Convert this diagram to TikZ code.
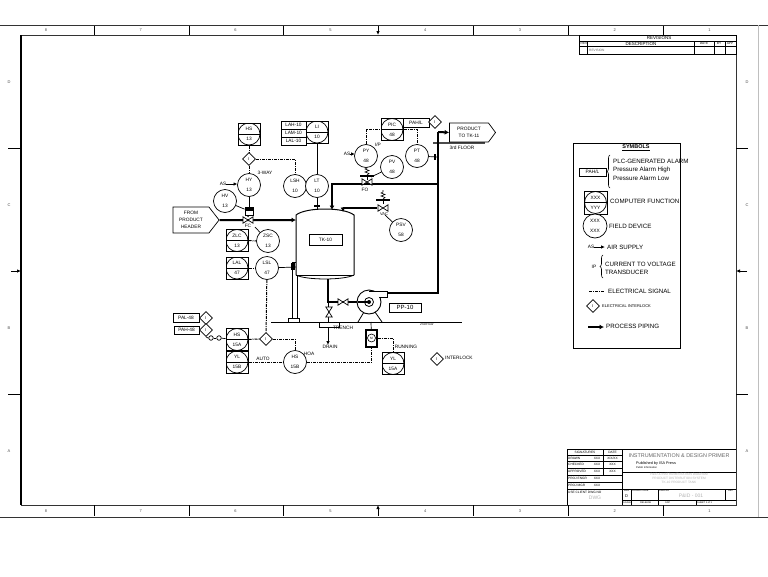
\documentclass[tikz,border=0pt]{standalone}
\usepackage{fontspec}
\setmainfont{Liberation Sans}
\usetikzlibrary{arrows.meta,shapes.geometric,shapes.symbols,decorations.pathreplacing}
\newcommand{\tagfont}{\fontsize{4.8}{10}\selectfont}
\newcommand{\tinyfont}{\fontsize{3.2}{4}\selectfont}
\newcommand{\symfont}{\fontsize{6.2}{8}\selectfont}
\tikzset{
  instr/.style={circle,draw,line width=0.7pt,minimum size=23pt,inner sep=0pt,align=center,font=\tagfont,fill=white},
  shared/.style={rectangle,draw,line width=1pt,minimum size=22pt,inner sep=0pt,align=center,font=\tagfont,
    path picture={\draw[line width=0.7pt] (path picture bounding box.center) circle (11pt);
      \draw[line width=0.7pt] (path picture bounding box.west) -- (path picture bounding box.east);}},
  tagbox/.style={rectangle,draw,line width=0.9pt,inner sep=0pt,font=\tagfont,fill=white},
  intlk/.style={diamond,draw,line width=0.7pt,aspect=1,minimum size=13pt,inner sep=0pt,font=\fontsize{4}{4}\selectfont,fill=white},
  lbl/.style={inner sep=0pt,font=\tagfont},
  small/.style={inner sep=0pt,font=\tinyfont},
  sheetmark/.style={inner sep=0pt,text=black!70,font=\fontsize{4}{4}\selectfont},
  sym/.style={inner sep=0pt,anchor=west,font=\symfont},
  greytext/.style={inner sep=0pt,text=black!30,font=\tinyfont},
  pipe/.style={line width=2pt},
  pipeto/.style={line width=2pt,-{Latex[length=4.5pt,width=5pt]}},
  airto/.style={line width=0.9pt,-{Latex[length=4pt,width=3.5pt]}},
  elec/.style={line width=1pt,dash pattern=on 3pt off 1pt on 1pt off 1pt},
  thinline/.style={line width=0.7pt},
  grid line/.style={line width=0.8pt},
  valvebody/.pic={\draw[line width=0.7pt,fill=white] (-5,-3.2) -- (5,3.2) -- (5,-3.2) -- (-5,3.2) -- cycle;},
  springtop/.pic={\draw[line width=0.6pt] (0,-9) -- (0,-7) -- (-2,-6) -- (2,-4.5) -- (-2,-3) -- (2,-1.5) -- (0,0);
    \draw[line width=1.6pt] (-7,1) -- (7,1);\draw[line width=0.7pt] (0,1) -- (0,5);}
}
\begin{document}
\begin{tikzpicture}[x=1pt,y=-1pt]
\useasboundingbox (0,0) rectangle (768,576);
% sheet border
\draw[line width=0.9pt,black!80] (0,25) -- (768,25);
\draw[line width=0.9pt,black!80] (0,517) -- (768,517);
\draw[line width=0.9pt,black!25] (758,25) -- (758,517);
\draw[line width=1pt,black!80] (21,35) -- (736,35) -- (736,505) -- (21,505);
\draw[line width=1.6pt] (21,35) -- (21,505);
\foreach \x in {94,189,283,473,568,663} {
  \draw[line width=0.8pt] (\x,26) -- (\x,35);
  \draw[line width=0.8pt] (\x,505) -- (\x,516);
}
\foreach \y in {148,394} {
  \draw[line width=0.8pt] (8,\y) -- (21,\y);
  \draw[line width=0.8pt] (736,\y) -- (748,\y);
}
\draw[airto] (378,26) -- (378,35);
\draw[airto] (378,516) -- (378,505);
\draw[airto] (11,271) -- (21,271);
\draw[airto] (747,271) -- (736,271);
\foreach \n [count=\i from 0] in {8,7,6,5,4,3,2,1} {
  \node[sheetmark] (topnum\n) at (46+94.8*\i,30) {\n};
  \node[sheetmark] (botnum\n) at (46+94.8*\i,511) {\n};
}
\foreach \c/\y in {D/82,C/205,B/328,A/451} {
  \node[sheetmark] (left\c) at (9,\y) {\c};
  \node[sheetmark] (right\c) at (747,\y) {\c};
}
% revisions block
\draw[grid line] (579,35) rectangle (736,54);
\draw[grid line] (579,41) -- (736,41);
\draw[grid line] (579,46) -- (736,46);
\foreach \x in {587,694,714,725} \draw[grid line] (\x,41) -- (\x,54);
\node[small,font=\fontsize{4.5}{5}\selectfont] (revhead) at (659,37.5) {REVISIONS};
\node[small] (revno) at (584,43.5) {REV};
\node[small,font=\fontsize{4.5}{5}\selectfont] (revdesc) at (641,43.5) {DESCRIPTION};
\node[small] (revdate) at (704,43.5) {DATE};
\node[small] (revby) at (719,43.5) {BY};
\node[small] (revchk) at (730,43.5) {APP};
\node[greytext,text=black!60,anchor=west] (revtext) at (589,50) {REVISION};
% tank
\draw[line width=1pt] (296,275) -- (296,215) .. controls (306,207) and (344,207) .. (354,215) -- (354,275);
\draw[line width=0.7pt] (296,275) -- (354,275);
\draw[line width=0.8pt] (296,275) .. controls (306,280.3) and (344,280.3) .. (354,275);
\node[tagbox,minimum width=33pt,minimum height=11pt] (tk10) at (325.5,240) {TK-10};
\coordinate (tkfeed) at (296,220);
\coordinate (tktop) at (332,210);
\coordinate (tkvent) at (343,212);
\coordinate (tklt) at (317,209);
\coordinate (tkside) at (296,267);
\coordinate (tkout) at (328,279);
% legs and floor
\draw[line width=0.8pt] (292,262) -- (296,262);
\draw[line width=0.8pt] (292,262) -- (292,318);
\draw[line width=0.8pt] (297,275) -- (297,318);
\draw[line width=0.8pt] (288,318) rectangle (299,322);
\draw[line width=0.9pt] (271,322) -- (462,322);
\node[small] (floor2) at (427,324) {2nd Floor};
\draw[line width=1.2pt,black!70] (433,143) -- (485,143);
\node[lbl] (floor3) at (462,148) {3rd FLOOR};
% process lines
\node[signal,signal to=east,signal pointer angle=104,draw,line width=0.7pt,minimum width=46pt,minimum height=26pt,inner sep=0pt,align=center,font=\fontsize{4.8}{7}\selectfont] (header) at (191,220) {FROM\\PRODUCT\\HEADER};
\node[signal,signal to=east,signal pointer angle=107,draw,line width=0.7pt,minimum width=46pt,minimum height=19pt,inner sep=0pt,align=center,font=\fontsize{4.8}{7}\selectfont] (product) at (469,132.5) {PRODUCT\\TO TK-11};
\coordinate (mainrise) at (438,132);
\draw[pipeto] (header) -- (tkfeed);
\draw[pipeto] (438,184) -- (332,184) -- (tktop);
\draw[pipeto] (mainrise) -- (product.west);
\draw[pipe] (mainrise) -- (438,293) -- (387,293);
\draw[pipeto] (377,208) -- (343,208) -- (tkvent);
\draw[pipe] (tkout) -- (328,302) -- (369,302);
\draw[line width=0.8pt,-{Latex[length=4pt,width=3.5pt]}] (328,302) -- (328,345);
\pic at (248,220) {valvebody};
\pic at (367,182) {valvebody};
\pic at (383,208) {valvebody};
\pic at (343,302) {valvebody};
\pic[rotate=90] at (329,312) {valvebody};
\pic at (367,175) {springtop};
\pic at (383,199) {springtop};
\node[lbl] (fclabel) at (248,226) {FC};
\node[lbl] (folabel) at (365,189.5) {FO};
\node[lbl,font=\fontsize{4}{5}\selectfont] (vaclabel) at (384,214.5) {VAC};
% trench and drain
\draw[line width=0.8pt,fill=white] (319,322) rectangle (339,327);
\node[lbl] (trench) at (343,328) {TRENCH};
\node[lbl] (drain) at (330,347) {DRAIN};
% pump
\draw[line width=0.8pt] (358,322) -- (364,312);
\draw[line width=0.8pt] (382,322) -- (375,312);
\draw[line width=0.9pt,fill=white] (369,302) circle (12pt);
\draw[line width=0.9pt,fill=white] (369,291) -- (387,291) -- (387,297) -- (379,297);
\draw[line width=0.8pt] (369,302) circle (4.5pt);
\fill (369,302) circle (2pt);
\draw[line width=1.4pt] (358,302) -- (369,302);
\node[tagbox,minimum width=32pt,minimum height=9pt,font=\fontsize{6}{7}\selectfont] (pp10) at (405,307.5) {PP-10};
% level and selector loop
\node[shared] (hs13) at (249,134) {HS\\13};
\node[shared] (li10) at (317,132) {LI\\10};
\node[tagbox,minimum width=25pt,minimum height=8pt] (lah10) at (293.5,125) {LAH-10};
\node[tagbox,minimum width=25pt,minimum height=8pt] (lam10) at (293.5,133) {LAM-10};
\node[tagbox,minimum width=25pt,minimum height=8pt] (lal10) at (293.5,141) {LAL-10};
\node[intlk] (int13) at (249,159) {I};
\node[instr] (hy13) at (249,185) {HY\\13};
\node[instr] (lsh10) at (295,186) {LSH\\10};
\node[instr] (lt10) at (317,186) {LT\\10};
\node[instr] (hv13) at (225,201) {HV\\13};
\node[lbl] (threeway) at (265,173) {3-WAY};
\node[lbl] (as13) at (223,184) {AS};
\coordinate (as13end) at (237.5,184);
\draw[airto] (as13) -- (as13end);
\draw[elec] (hs13) -- (int13);
\draw[elec] (int13) -- (hy13);
\draw[elec] (int13) -| (lsh10);
\draw[thinline] (li10) -- (lt10);
\draw[thinline] (lt10) -- (tklt);
\draw[line width=1.2pt] (314,206) -- (320,206);
\node[draw,fill=white,line width=0.8pt,minimum width=8pt,minimum height=8pt,inner sep=0pt] (fcact) at (249,211) {};
\fill (245,207) rectangle (253,211);
\draw[line width=0.8pt] (hy13) -- (fcact);
\draw[thinline] (hv13) -- (fcact);
\draw[line width=1.2pt] (fcact) -- (248,217);
\node[shared] (zlc13) at (237,240.5) {ZLC\\13};
\node[instr] (zsc13) at (268,241) {ZSC\\13};
\draw[elec] (zlc13) -- (zsc13);
\coordinate (fcstem) at (255,227);
\draw[thinline] (fcstem) -- (zsc13);
\node[shared] (lal47) at (237,268) {LAL\\47};
\node[instr] (lsl47) at (267,268) {LSL\\47};
\draw[elec] (lal47) -- (lsl47);
\draw[thinline] (lsl47) -- (tkside);
\fill (291,263) rectangle (295,270);
\node[intlk] (int15) at (266,339) {I};
\node[shared] (hs15a) at (237,339.5) {HS\\15A};
\node[shared] (yl15b) at (237,362) {YL\\15B};
\node[instr] (hs15b) at (295,362) {HS\\15B};
\node[lbl] (auto) at (263,359) {AUTO};
\node[lbl] (hoa) at (309,354) {HOA};
\draw[elec] (lsl47) -- (int15);
\draw[elec] (hs15a) -- (int15);
\draw[elec] (int15) -| (hs15b);
\draw[elec] (yl15b) -- (hs15b);
\node[tagbox,minimum width=26pt,minimum height=9pt] (pal48) at (186,317.5) {PAL-48};
\node[tagbox,minimum width=25pt,minimum height=8pt] (pah48) at (186.5,330) {PAH-48};
\node[intlk] (intpal) at (206,318) {I};
\node[intlk] (intpah) at (206,330) {I};
\node[circle,draw,line width=0.7pt,minimum size=4.5pt,inner sep=0pt] (link1) at (211,338) {};
\node[circle,draw,line width=0.7pt,minimum size=4.5pt,inner sep=0pt] (link2) at (219,338) {};
\draw[thinline] (intpah.south) -- (208,338) -- (link1);
\draw[thinline] (link1) -- (link2);
\draw[thinline] (link2) -- (hs15a);
% motor starter
\node[draw,line width=1.2pt,fill=white,minimum width=11pt,minimum height=17pt,inner sep=0pt,font=\tinyfont] (starter) at (371.5,338.5) {M};
\draw[line width=0.6pt] (371.5,338) circle (4pt);
\node[shared] (yl15a) at (393,363.5) {YL\\15A};
\node[lbl] (running) at (406,347) {RUNNING};
\coordinate (pumpbase) at (371,322);
\draw[thinline] (pumpbase) -- (starter);
\draw[elec] (hs15b) -| (starter);
\draw[elec] (starter) -| (yl15a);
\node[intlk] (intlock) at (437,359) {I};
\node[lbl,anchor=west] (interlock) at (445,358) {INTERLOCK};
% pressure loop
\node[shared] (pic48) at (392,129.5) {PIC\\48};
\node[tagbox,minimum width=26pt,minimum height=9pt] (pahl) at (416,122.5) {PAH/L};
\node[intlk] (intpic) at (435,122) {I};
\node[instr] (py48) at (366,156) {PY\\48};
\node[instr] (pt48) at (417,156) {PT\\48};
\node[instr] (pv48) at (392,167) {PV\\48};
\node[instr] (psv58) at (401,230) {PSV\\58};
\node[lbl] (ipl) at (378,145) {I/P};
\node[lbl] (as48) at (347,154) {AS};
\coordinate (as48end) at (355,154);
\draw[airto] (as48) -- (as48end);
\draw[elec] (py48) |- (pic48);
\draw[elec] (pic48) -| (pt48);
\coordinate (ptpipe) at (438,157);
\draw[thinline] (pt48) -- (ptpipe);
\draw[line width=1.2pt] (435,154) -- (435,160);
\coordinate (pvstem) at (371,177);
\draw[thinline] (pv48) -- (pvstem);
\coordinate (vacstem) at (385,215);
\draw[thinline] (psv58) -- (vacstem);
% symbols legend
\draw[line width=1pt] (573,143) rectangle (680,348);
\node[inner sep=0pt,font=\fontsize{5.5}{6}\selectfont\bfseries] (symhead) at (636,148) {\underline{SYMBOLS}};
\node[tagbox,minimum width=27pt,minimum height=8pt] (sympah) at (592.5,172) {PAH/L};
\draw[line width=0.6pt,decorate,decoration={brace,amplitude=3pt,mirror}] (610,155) -- (610,188);
\node[sym] (symplc) at (613,161) {PLC-GENERATED ALARM};
\node[sym] (symhigh) at (613,169.5) {Pressure Alarm High};
\node[sym] (symlow) at (613,178) {Pressure Alarm Low};
\node[shared,minimum size=23pt] (symcomp) at (595.5,202.5) {XXX\\YYY};
\node[sym] (symcomptxt) at (610,201) {COMPUTER FUNCTION};
\node[instr,minimum size=24pt] (symfield) at (595,226) {XXX\\XXX};
\node[sym] (symfieldtxt) at (609,226) {FIELD DEVICE};
\node[lbl] (symas) at (591,247) {AS};
\coordinate (symasend) at (605,247);
\draw[airto] (symas) -- (symasend);
\node[sym] (symair) at (607,247) {AIR SUPPLY};
\node[lbl] (symip) at (594,267) {IP};
\draw[line width=0.6pt,decorate,decoration={brace,amplitude=3pt,mirror}] (603,255) -- (603,278);
\node[sym] (symcurr) at (605,264) {CURRENT TO VOLTAGE};
\node[sym] (symtrans) at (605,272) {TRANSDUCER};
\coordinate (symel1) at (589,291);
\coordinate (symel2) at (605,291);
\draw[elec] (symel1) -- (symel2);
\node[sym] (symelec) at (608,291) {ELECTRICAL SIGNAL};
\node[intlk] (symint) at (593,306) {I};
\node[sym,font=\fontsize{4}{5}\selectfont] (syminttxt) at (602,306) {ELECTRICAL INTERLOCK};
\coordinate (sympi1) at (588,327);
\coordinate (sympi2) at (604,327);
\draw[pipeto] (sympi1) -- (sympi2);
\node[sym] (sympipe) at (606,326) {PROCESS PIPING};
% title block
\draw[grid line] (567,505) -- (567,449) -- (736,449);
\draw[grid line] (622,449) -- (622,505);
\draw[grid line] (603,449) -- (603,475);
\foreach \y in {455,461,468,475,482,489} \draw[grid line] (567,\y) -- (622,\y);
\draw[grid line] (622,472) -- (736,472);
\draw[grid line] (622,489) -- (736,489);
\draw[grid line] (622,500) -- (736,500);
\draw[grid line] (631,489) -- (631,505);
\draw[grid line] (658,489) -- (658,505);
\draw[grid line] (725,489) -- (725,500);
\draw[grid line] (696,500) -- (696,505);
\node[small] (signhead) at (585,452.2) {SIGNATURES};
\node[small] (datehead) at (612.5,452.2) {DATE};
\node[small,anchor=west] (sdrawn) at (568,458.2) {DRAWN};
\node[small,anchor=west] (schecked) at (568,464.7) {CHECKED};
\node[small,anchor=west] (sappr) at (568,471.5) {APPROVED};
\node[small,anchor=west] (sengr) at (568,478.5) {PROJ ENGR};
\node[small,anchor=west] (smgr) at (568,485.5) {PROJ MGR};
\node[small,anchor=west] (sclient) at (568,492.5) {USE CLIENT DWG NO};
\node[small] (x1) at (597,458.2) {XXX};
\node[small] (x2) at (597,464.7) {XXX};
\node[small] (x3) at (597,471.5) {XXX};
\node[small] (x4) at (597,478.5) {XXX};
\node[small] (x5) at (597,485.5) {XXX};
\node[small] (d1) at (612.5,458.2) {X/X/XX};
\node[small] (d2) at (612.5,464.7) {XXX};
\node[small] (d3) at (612.5,471.5) {XXX};
\node[greytext,font=\fontsize{5}{6}\selectfont] (clientno) at (595,498) {DWG};
\node[inner sep=0pt,text=black!60,font=\fontsize{5.4}{6}\selectfont] (ttitle) at (679,456) {INSTRUMENTATION \& DESIGN PRIMER};
\node[small,anchor=west,font=\fontsize{3.8}{5}\selectfont] (tpub) at (636,464) {Published by ISA Press};
\node[small,anchor=west,font=\fontsize{2.6}{3}\selectfont] (tpub2) at (636,468) {Public Information};
\node[greytext] (tline1) at (679,474.5) {P\&ID \& INSTRUMENTATION DIAGRAM};
\node[greytext] (tline2) at (679,478.5) {PRODUCT DISTRIBUTION SYSTEM};
\node[greytext] (tline3) at (679,482.5) {TK-10 PRODUCT TANK};
\node[small,font=\fontsize{2.4}{3}\selectfont] (tsize) at (626.5,491) {SIZE};
\node[small,font=\fontsize{4}{4}\selectfont] (tsized) at (626.5,496) {D};
\node[small,font=\fontsize{2.4}{3}\selectfont,anchor=west] (torder) at (632,491) {ORDER CODE};
\node[small,font=\fontsize{2.4}{3}\selectfont,anchor=west] (tdwg) at (659,491) {DWG NO};
\node[greytext,font=\fontsize{5}{6}\selectfont] (tdwgno) at (691,495.5) {P\&ID - 001};
\node[small,font=\fontsize{2.4}{3}\selectfont] (trev) at (730.5,491) {REV};
\node[small,font=\fontsize{2.4}{3}\selectfont,anchor=west] (tscale) at (623,502.5) {SCALE};
\node[small,font=\fontsize{2.4}{3}\selectfont,anchor=west] (trel) at (640,502.5) {RELEASE};
\node[small,font=\fontsize{2.4}{3}\selectfont,anchor=west] (tsdp) at (665,502.5) {SDP};
\node[small,font=\fontsize{2.4}{3}\selectfont,anchor=west] (tsheet) at (697,502.5) {SHEET 1 of 1};
\end{tikzpicture}
\end{document}
